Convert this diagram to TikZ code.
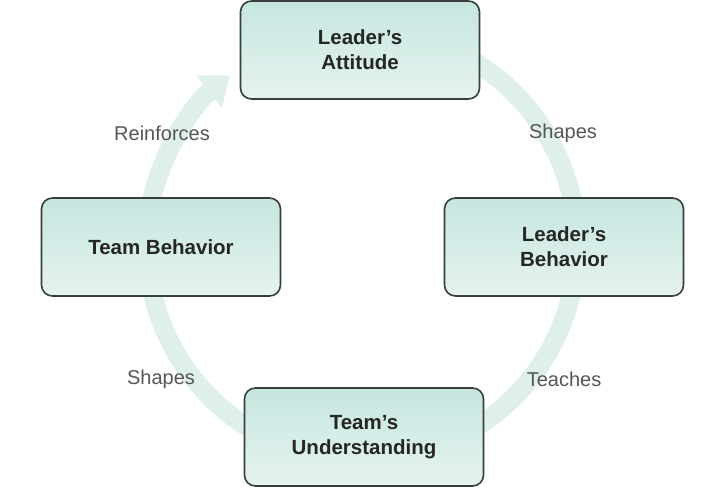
\documentclass[tikz,border=0pt]{standalone}
\usepackage{fontspec}
\setmainfont{Liberation Sans}
\usetikzlibrary{arrows.meta}
\definecolor{ringc}{HTML}{DFEFEB}
\definecolor{boxtop}{HTML}{C6E6DF}
\definecolor{boxbot}{HTML}{E6F3F0}
\definecolor{edgec}{HTML}{3A3F3E}
\definecolor{labc}{HTML}{555555}
\tikzset{
 stage/.style={draw=edgec,line width=1.6pt,rounded corners=11pt,top color=boxtop,bottom color=boxbot,
  minimum width=239pt,minimum height=98pt,align=center,font=\fontsize{20.5}{25}\selectfont\bfseries,text=black!85},
 lab/.style={font=\fontsize{20}{24}\selectfont,text=labc}
}
\begin{document}
\begin{tikzpicture}[x=1pt,y=1pt]
\useasboundingbox (0,0) rectangle (720,500);
\coordinate (C) at (362,255);
\draw[ringc,line width=19pt,-{Triangle[width=40pt,length=26pt]}] (C) ++(70:215) arc[start angle=70,end angle=-232,radius=215];

\node (LA)[stage] at (360,450) {Leader's\\Attitude};
\node (LB)[stage] at (564,253) {Leader's\\Behavior};
\node (TU)[stage] at (364,63) {Team's\\Understanding};
\node (TB)[stage] at (161,253) {Team Behavior};

\node (L1)[lab] at (162,367) {Reinforces};
\node (L2)[lab] at (563,367) {Shapes};
\node (L3)[lab] at (564,121) {Teaches};
\node (L4)[lab] at (161,121) {Shapes};
\end{tikzpicture}
\end{document}
